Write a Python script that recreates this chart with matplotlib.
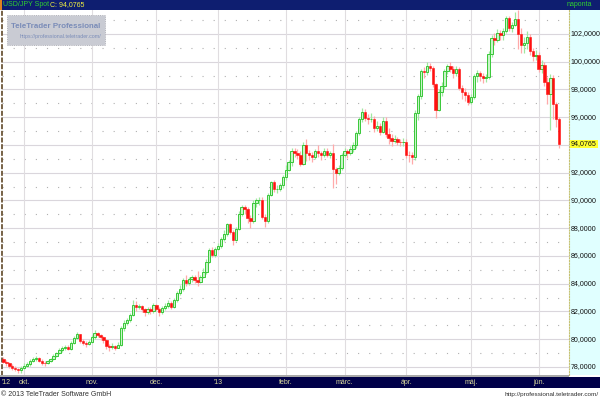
import numpy as np
import matplotlib.pyplot as plt
from matplotlib.patches import Rectangle
from matplotlib.transforms import blended_transform_factory

plt.rcParams['font.family'] = ['Liberation Sans', 'DejaVu Sans']

# USD/JPY napi gyertyak (2012.09.20 - 2013.06.12), nyitas = elozo zaras
first_open = 78.55
closes = [
    78.35, 78.25, 78.10, 77.95, 77.85, 77.75, 77.95, 78.10, 78.20, 78.45,
    78.55, 78.65, 78.45, 78.30, 78.25, 78.40, 78.55, 78.80, 79.00, 79.20,
    79.35, 79.45, 79.30, 79.75, 80.10, 80.35, 79.85, 79.75, 79.65, 79.80,
    80.15, 80.45, 80.30, 80.15, 79.95, 79.50, 79.45, 79.50, 79.40, 79.60,
    80.80, 81.20, 81.35, 81.75, 82.50, 82.30, 82.40, 82.15, 81.95, 82.15,
    82.00, 82.45, 82.20, 81.95, 82.25, 82.40, 82.60, 82.35, 82.80, 83.35,
    83.65, 84.25, 84.05, 84.35, 84.45, 84.30, 84.15, 84.50, 84.85, 85.60,
    86.40, 86.05, 86.50, 86.75, 87.25, 87.60, 88.30, 87.70, 87.15, 87.95,
    89.05, 89.50, 89.40, 88.75, 88.50, 89.85, 90.00, 90.05, 88.80, 88.55,
    90.40, 91.30, 90.80, 90.85, 91.10, 91.70, 92.20, 92.80, 93.55, 93.40,
    93.30, 92.65, 94.00, 93.40, 93.25, 93.15, 93.55, 93.40, 93.25, 93.55,
    93.30, 93.40, 92.25, 91.95, 92.35, 93.30, 93.55, 93.40, 93.70, 94.00,
    94.85, 95.85, 96.35, 95.95, 95.85, 95.90, 95.25, 95.35, 94.95, 95.75,
    94.80, 94.50, 94.30, 94.45, 94.25, 94.20, 94.25, 93.30, 93.25, 93.10,
    96.30, 97.55, 99.35, 99.25, 99.70, 99.55, 98.40, 96.55, 97.80, 98.25,
    99.30, 99.70, 99.45, 99.20, 99.50, 98.10, 97.85, 97.60, 97.10, 97.45,
    98.95, 99.20, 98.95, 98.85, 98.90, 100.55, 101.70, 101.55, 102.10, 101.90,
    102.20, 103.15, 102.40, 102.65, 103.10, 102.00, 101.20, 101.35, 101.80, 100.75,
    100.40, 100.50, 99.45, 99.80, 98.55, 97.65, 98.85, 96.95, 95.90, 94.0765,
]
highs = [
    78.70, 78.50, 78.35, 78.20, 78.05, 77.95, 78.05, 78.25, 78.35, 78.55,
    78.70, 78.80, 78.75, 78.55, 78.40, 78.50, 78.65, 78.90, 79.10, 79.35,
    79.50, 79.60, 79.55, 79.85, 80.20, 80.50, 80.40, 80.05, 79.90, 79.95,
    80.30, 80.65, 80.55, 80.40, 80.25, 80.05, 79.65, 79.70, 79.60, 79.80,
    80.95, 81.40, 81.50, 81.90, 82.80, 82.75, 82.55, 82.45, 82.25, 82.30,
    82.35, 82.60, 82.55, 82.35, 82.40, 82.60, 82.80, 82.75, 83.00, 83.50,
    83.90, 84.40, 84.60, 84.50, 84.60, 84.60, 84.95, 84.65, 85.10, 85.75,
    86.55, 86.65, 86.65, 86.90, 87.40, 87.85, 88.40, 88.35, 87.85, 88.10,
    89.25, 89.65, 89.70, 89.50, 88.95, 90.05, 90.20, 90.25, 90.25, 89.00,
    90.55, 91.40, 91.50, 91.10, 91.25, 91.85, 92.55, 92.95, 93.75, 93.80,
    93.70, 93.55, 94.20, 94.45, 93.65, 93.50, 93.70, 94.00, 93.60, 93.75,
    93.80, 93.60, 94.10, 92.40, 92.55, 93.45, 93.75, 93.70, 93.90, 94.20,
    95.00, 96.00, 96.70, 96.60, 96.20, 96.30, 96.10, 95.75, 95.60, 96.05,
    96.00, 95.20, 94.80, 94.70, 94.60, 94.45, 94.50, 94.40, 93.55, 93.50,
    96.50, 97.70, 99.45, 99.65, 99.95, 99.90, 99.70, 98.50, 98.00, 98.55,
    99.45, 99.85, 99.95, 99.70, 99.70, 99.65, 98.35, 98.10, 97.80, 97.65,
    99.10, 99.40, 99.35, 99.20, 99.10, 100.75, 101.95, 102.05, 102.35, 102.30,
    102.45, 103.30, 103.30, 102.85, 103.55, 103.75, 102.45, 101.75, 102.20, 102.00,
    101.00, 100.85, 100.70, 100.10, 99.95, 98.90, 99.10, 99.05, 97.10, 96.05,
]
lows = [
    78.25, 78.10, 77.95, 77.80, 77.70, 77.60, 77.55, 77.85, 78.00, 78.10,
    78.35, 78.45, 78.35, 78.15, 78.05, 78.20, 78.35, 78.50, 78.75, 78.90,
    79.10, 79.25, 79.20, 79.25, 79.65, 80.00, 79.75, 79.55, 79.45, 79.55,
    79.70, 80.05, 80.15, 79.95, 79.70, 79.30, 79.15, 79.30, 79.25, 79.35,
    79.50, 80.60, 81.00, 81.25, 81.70, 82.05, 82.15, 81.95, 81.70, 81.85,
    81.80, 81.90, 82.00, 81.70, 81.80, 82.10, 82.25, 82.15, 82.25, 82.70,
    83.20, 83.50, 83.85, 83.90, 84.15, 84.05, 83.85, 84.05, 84.40, 84.70,
    85.50, 85.90, 85.95, 86.40, 86.60, 87.05, 87.45, 87.55, 86.80, 87.05,
    87.85, 88.90, 89.00, 88.40, 88.05, 88.40, 89.55, 89.65, 88.65, 88.10,
    88.40, 90.30, 90.60, 90.55, 90.70, 90.90, 91.45, 92.10, 92.50, 93.10,
    93.00, 92.45, 92.55, 92.85, 92.95, 92.75, 93.00, 93.15, 92.95, 93.15,
    93.10, 93.05, 90.90, 91.20, 91.85, 92.20, 93.10, 93.05, 93.25, 93.50,
    93.75, 94.70, 95.65, 95.75, 95.50, 95.65, 94.95, 95.00, 94.70, 94.85,
    94.55, 94.10, 93.95, 94.15, 94.00, 93.90, 93.95, 93.05, 92.80, 92.60,
    92.90, 95.80, 97.30, 98.85, 99.05, 99.30, 98.20, 95.95, 96.45, 97.55,
    98.05, 99.15, 99.25, 98.85, 99.00, 97.95, 97.30, 97.20, 96.85, 96.95,
    97.30, 98.55, 98.60, 98.45, 98.55, 98.75, 100.35, 101.20, 101.40, 101.55,
    101.60, 102.05, 102.20, 102.15, 102.55, 100.90, 100.65, 100.65, 100.90, 100.50,
    100.05, 100.10, 99.25, 99.20, 98.25, 96.95, 95.10, 95.85, 95.30, 93.80,
]

month_pos = [7, 30, 52, 73, 96, 116, 137, 159, 182]
month_labels = ['okt.', 'nov.', 'dec.', "'13", 'febr.', 'márc.', 'ápr.', 'máj.', 'jún.']
price_ticks = list(range(78, 104, 2))
last_price = 94.0765

W, H = 600, 400


def fx(px):
    return px / W


def fy(py):
    return 1 - py / H


opens = [first_open] + closes[:-1]
o = np.array(opens)
c = np.array(closes)
h = np.array(highs)
l = np.array(lows)
x = np.arange(len(c))
up = c >= o

fig = plt.figure(figsize=(6, 4), dpi=100)
fig.patch.set_facecolor('white')

# fo grafikon
ax = fig.add_axes([fx(2), fy(375), fx(569) - fx(2), fy(10) - fy(375)])
ax.set_xlim(-0.51, 192.35)
ax.set_ylim(77.42, 103.73)
ax.set_xticks([])
ax.set_yticks([])
for s in ['top', 'right', 'bottom']:
    ax.spines[s].set_visible(False)
ax.spines['left'].set_color('#604828')
ax.spines['left'].set_linestyle((0, (2, 2)))
ax.spines['left'].set_linewidth(1.2)

for v in range(78, 104):
    if v % 2 == 0:
        ax.axhline(v, color='#dad6dc', lw=0.8, zorder=0)
    else:
        ax.axhline(v, color='#b0b0b0', lw=0.8, ls=(0, (1, 9)), zorder=0)
for p in month_pos:
    ax.axvline(p, color='#e0dde0', lw=0.8, zorder=0)

ax.vlines(x[up], l[up], h[up], color='#a0e8a0', lw=0.9, zorder=2)
ax.vlines(x[~up], l[~up], h[~up], color='#ffaaaa', lw=0.9, zorder=2)
body_lo = np.minimum(o, c)
body_h = np.maximum(np.abs(c - o), 0.05)
ax.bar(x[up], body_h[up], bottom=body_lo[up], width=0.8, color='#c8f4c8',
       edgecolor='#38c838', linewidth=0.7, zorder=3)
ax.bar(x[~up], body_h[~up], bottom=body_lo[~up], width=0.8, color='#ff1010',
       edgecolor='#ff1010', linewidth=0.4, zorder=3)

# jobb oldali arskala
axr = fig.add_axes([fx(569), fy(375), 1 - fx(569), fy(10) - fy(375)])
axr.set_facecolor('#e0ffff')
axr.set_ylim(ax.get_ylim())
axr.set_xlim(0, 1)
axr.set_xticks([])
axr.set_yticks([])
for s in ['top', 'right', 'bottom']:
    axr.spines[s].set_visible(False)
axr.spines['left'].set_color('#c8c070')
axr.spines['left'].set_linestyle((0, (1, 1.5)))
for v in price_ticks:
    axr.text(0.06, v, str(v) + ',0000', fontsize=5.1, va='center', ha='left', color='#101010')
axr.text(0.06, last_price, ('%.4f' % last_price).replace('.', ','), fontsize=5.1,
         va='center', ha='left', color='#101010',
         bbox=dict(boxstyle='square,pad=0.12', fc='#ffff30', ec='none'), zorder=5)

# fejlec
fig.add_artist(Rectangle((0, fy(10)), 1, 10 / H, transform=fig.transFigure,
                         facecolor='#0e1e70', edgecolor='none'))
fig.add_artist(Rectangle((0, fy(10)), 2 / W, 10 / H, transform=fig.transFigure,
                         facecolor='#e08020', edgecolor='none'))
fig.text(fx(3), fy(5), 'USD/JPY Spot', color='#30d030', fontsize=5, va='center')
fig.text(fx(50), fy(5), 'C: 94,0765', color='#f0f040', fontsize=5, va='center')
fig.text(fx(592), fy(5), 'naponta', color='#30d030', fontsize=5, va='center', ha='right')

# vizjel
fig.add_artist(Rectangle((fx(7), fy(45)), fx(105) - fx(7), 30 / H, transform=fig.transFigure,
                         facecolor='#c9cbd3', edgecolor='#a4a4ac', ls=':', lw=0.6))
fig.text(fx(56), fy(26), 'TeleTrader Professional', fontsize=5.7, fontweight='bold',
         color='#7a8cb8', ha='center', va='center')
fig.text(fx(60), fy(36.5), 'https://professional.teletrader.com/', fontsize=3.8,
         color='#7a8cb8', ha='center', va='center')

# datum tengely
fig.add_artist(Rectangle((0, fy(377)), fx(569), 2 / H, transform=fig.transFigure,
                         facecolor='#a8a8a8', edgecolor='none'))
fig.add_artist(Rectangle((0, fy(388)), 1, 11 / H, transform=fig.transFigure,
                         facecolor='#000048', edgecolor='none'))
tr = blended_transform_factory(ax.transData, fig.transFigure)
fig.text(1, fy(382.5), "'12", transform=tr, fontsize=5, color='#d8d89c',
         ha='center', va='center', zorder=5)
for p, lab in zip(month_pos, month_labels):
    fig.text(p, fy(382.5), lab, transform=tr, fontsize=5, color='#d8d89c',
             ha='center', va='center', zorder=5)

# lablec
fig.text(fx(1), fy(394.5), '© 2013 TeleTrader Software GmbH', fontsize=5,
         color='#303030', va='center')
fig.text(fx(599), fy(394.5), 'http://professional.teletrader.com/', fontsize=4.6,
         color='#303030', va='center', ha='right')

fig.savefig('out.png', dpi=100)
